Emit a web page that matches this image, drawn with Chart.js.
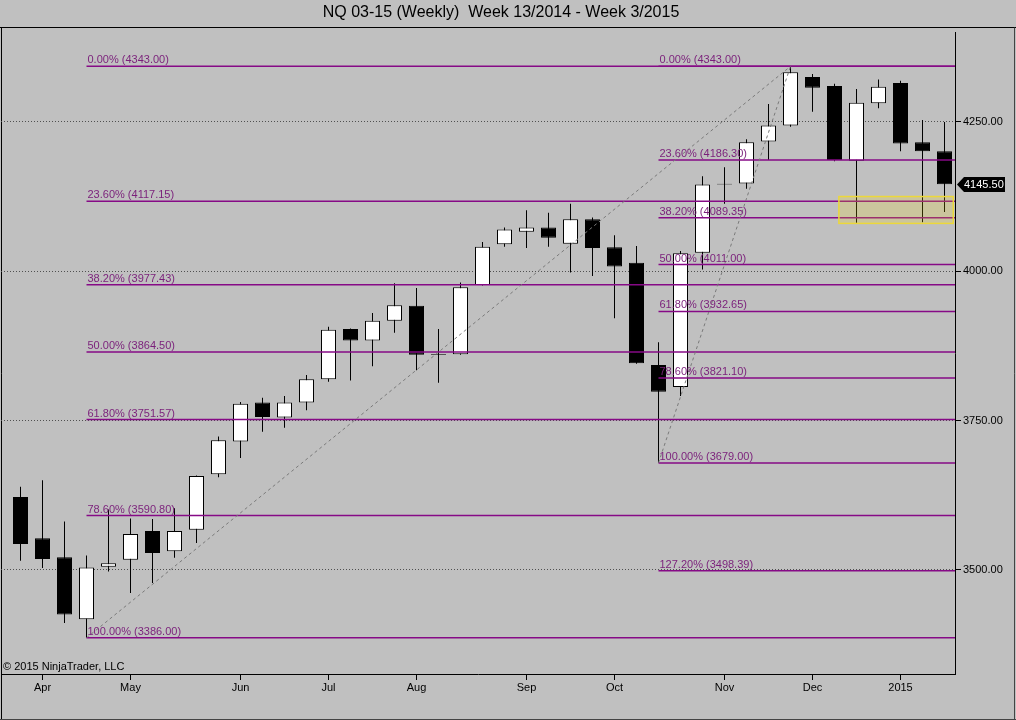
<!DOCTYPE html>
<html><head><meta charset="utf-8">
<script src="https://cdn.jsdelivr.net/npm/chart.js@4.4.1/dist/chart.umd.min.js"></script>
<style>html,body{margin:0;padding:0;background:#c0c0c0;}#wrap{width:1016px;height:720px;position:relative;}</style>
</head><body><div id="wrap"><canvas id="c"></canvas></div>
<script>
const titleText = 'NQ 03-15 (Weekly)  Week 13/2014 - Week 3/2015';
const copyrightText = '\u00a9 2015 NinjaTrader, LLC';

// weekly candles, week 13/2014 .. week 3/2015
const openP  = [3622,3553,3521,3417,3505,3517,3565,3531,3567,3660,3715,3780,3755,3780,3819,3903,3884,3917,3942,3860,3861,3977,4045,4066,4073,4046,4087,4040,4014,3843,3806,4031,4145,4147,4217,4244,4325,4310,4185,4281,4315,4216,4201];
const highP  = [3639,3650,3581,3524,3601,3586,3585,3603,3658,3723,3781,3788,3791,3826,3907,3904,3930,3980,3972,3903,3981,4049,4073,4102,4098,4113,4090,4060,4042,3881,4034,4159,4174,4221,4280,4343,4330,4314,4305,4321,4319,4253,4250];
const lowP   = [3515,3503,3411,3386,3497,3461,3478,3520,3545,3655,3687,3731,3738,3767,3815,3817,3841,3897,3834,3813,3860,3976,4041,4039,4041,3998,3992,3921,3845,3679,3791,4003,4113,4138,4186,4242,4267,4184,4080,4273,4201,4082,4099];
const closeP = [3543,3518,3425,3504,3511,3560,3528,3565,3657,3717,3778,3756,3780,3819,3902,3884,3917,3943,3860,3861.5,3973,4041,4070,4073,4056,4087,4039,4008,3846,3798,4030,4145,4146.5,4216,4244,4333,4307,4186,4282,4309,4214,4201,4145.5];

const monthTickPos = [1,5,10,14,18,23,27,32,36,40];
const monthLabels  = ['Apr','May','Jun','Jul','Aug','Sep','Oct','Nov','Dec','2015'];
const priceTicks   = [3500,3750,4000,4250];

const fibAStart  = 3;
const fibALevels = ['0.00%','23.60%','38.20%','50.00%','61.80%','78.60%','100.00%'];
const fibAValues = [4343.00,4117.15,3977.43,3864.50,3751.57,3590.80,3386.00];
const fibBStart  = 29;
const fibBLevels = ['0.00%','23.60%','38.20%','50.00%','61.80%','78.60%','100.00%','127.20%'];
const fibBValues = [4343.00,4186.30,4089.35,4011.00,3932.65,3821.10,3679.00,3498.39];

const trendA = [[3,3386],[35,4343]];
const trendB = [[29,3679],[35,4343]];
const zoneX = [37.2, 42.4];
const zoneY = [4080, 4125];
const lastPrice = closeP[closeP.length-1];

const X_MIN = -0.88636, X_MAX = 42.477;
const FONT = '"Liberation Sans", Arial, sans-serif';
const PURPLE = '#860a86';

const idx = openP.map((_, i) => i);

const datasets = [
  { type:'bar', data: idx.map(i => ({x:i, y:[lowP[i], highP[i]]})), backgroundColor:'#000',
    borderWidth:0, barThickness:1, grouped:false, inflateAmount:0, order:10 },
  { type:'bar', data: idx.map(i => ({x:i, y:[openP[i], closeP[i]]})),
    backgroundColor: idx.map(i => closeP[i] >= openP[i] ? '#ffffff' : '#000000'),
    borderColor:'#000', borderWidth:1, borderSkipped:false, barThickness:15, grouped:false, inflateAmount:0, order:9 }
];
fibAValues.forEach(v => datasets.push({ type:'line', data:[{x:fibAStart,y:v},{x:X_MAX,y:v}],
  borderColor:PURPLE, borderWidth:1.5, pointRadius:0, order:1 }));
fibBValues.forEach(v => datasets.push({ type:'line', data:[{x:fibBStart,y:v},{x:X_MAX,y:v}],
  borderColor:PURPLE, borderWidth:1.5, pointRadius:0, order:1 }));
[trendA, trendB].forEach(t => datasets.push({ type:'line', data:t.map(p => ({x:p[0], y:p[1]})),
  borderColor:'#7a7a7a', borderWidth:1, borderDash:[3,3], pointRadius:0, order:0 }));

const decor = {
  id:'decor',
  beforeDraw(chart) {
    const ctx = chart.ctx;
    ctx.save();
    ctx.fillStyle = '#c0c0c0';
    ctx.fillRect(0, 0, chart.width, chart.height);
    ctx.strokeStyle = '#000';
    ctx.lineWidth = 1;
    ctx.beginPath();
    ctx.moveTo(0, 27.5); ctx.lineTo(chart.width, 27.5);
    ctx.moveTo(1.5, 27.5); ctx.lineTo(1.5, chart.height);
    ctx.stroke();
    ctx.strokeStyle = '#444';
    ctx.beginPath();
    ctx.moveTo(0, chart.height - 0.5); ctx.lineTo(chart.width, chart.height - 0.5);
    ctx.moveTo(chart.width - 1.5, 27.5); ctx.lineTo(chart.width - 1.5, chart.height);
    ctx.stroke();
    ctx.fillStyle = '#000';
    ctx.font = '16px ' + FONT;
    ctx.textAlign = 'center';
    ctx.textBaseline = 'middle';
    ctx.fillText(titleText, 501, 13);
    ctx.restore();
  },
  afterDatasetsDraw(chart) {
    const ctx = chart.ctx, xs = chart.scales.x, ys = chart.scales.y;
    ctx.save();
    ctx.font = '11px ' + FONT;
    ctx.fillStyle = '#7a1f7a';
    ctx.textAlign = 'left';
    ctx.textBaseline = 'alphabetic';
    const lab = (start, levels, values) => values.forEach((v, k) => {
      ctx.fillText(levels[k] + ' (' + v.toFixed(2) + ')', xs.getPixelForValue(start) + 1, ys.getPixelForValue(v) - 3);
    });
    lab(fibAStart, fibALevels, fibAValues);
    lab(fibBStart, fibBLevels, fibBValues);
    // highlight zone
    const x1 = xs.getPixelForValue(zoneX[0]), x2 = xs.getPixelForValue(zoneX[1]);
    const y1 = ys.getPixelForValue(zoneY[1]), y2 = ys.getPixelForValue(zoneY[0]);
    ctx.fillStyle = 'rgba(255,220,0,0.18)';
    ctx.fillRect(x1, y1, x2 - x1, y2 - y1);
    ctx.strokeStyle = '#ecd83a';
    ctx.lineWidth = 1.5;
    ctx.strokeRect(x1, y1, x2 - x1, y2 - y1);
    // copyright
    ctx.fillStyle = '#000';
    ctx.font = '11px ' + FONT;
    ctx.textBaseline = 'middle';
    ctx.fillText(copyrightText, 3, 667);
    ctx.restore();
  },
  afterDraw(chart) {
    const ctx = chart.ctx, ys = chart.scales.y;
    const y = Math.round(ys.getPixelForValue(lastPrice)) + 0.5;
    const xl = chart.chartArea.right + 2;
    ctx.save();
    ctx.fillStyle = '#000';
    ctx.beginPath();
    ctx.moveTo(xl, y);
    ctx.lineTo(xl + 7, y - 7.5);
    ctx.lineTo(1005, y - 7.5);
    ctx.lineTo(1005, y + 7.5);
    ctx.lineTo(xl + 7, y + 7.5);
    ctx.closePath();
    ctx.fill();
    ctx.fillStyle = '#fff';
    ctx.font = '11px ' + FONT;
    ctx.textAlign = 'left';
    ctx.textBaseline = 'middle';
    ctx.fillText(lastPrice.toFixed(2), xl + 7, y + 0.5);
    ctx.restore();
  }
};

new Chart(document.getElementById('c'), {
  type:'bar',
  data:{ datasets },
  options:{
    responsive:true, maintainAspectRatio:false, animation:false,
    layout:{ padding:{ top:32, left:1, right:0, bottom:0 } },
    plugins:{ legend:{display:false}, tooltip:{enabled:false}, title:{display:false} },
    scales:{
      x:{
        type:'linear', min:X_MIN, max:X_MAX, position:'bottom', offset:false,
        afterBuildTicks: s => { s.ticks = monthTickPos.map(v => ({value:v})); },
        afterFit: s => { s.height = 46; },
        ticks:{ autoSkip:false, maxRotation:0, padding:1, color:'#000', font:{family:FONT, size:11},
          callback: v => monthLabels[monthTickPos.indexOf(v)] },
        grid:{ offset:false, drawOnChartArea:false, drawTicks:true, tickLength:6, tickColor:'#000', color:'#000' },
        border:{ display:true, color:'#000', width:1 }
      },
      y:{
        type:'linear', position:'right', min:3325.5, max:4400.5,
        afterBuildTicks: s => { s.ticks = priceTicks.map(v => ({value:v})); },
        afterFit: s => { s.width = 61; },
        ticks:{ padding:2, color:'#000', font:{family:FONT, size:11}, callback: v => v.toFixed(2) },
        grid:{ drawOnChartArea:true, drawTicks:true, tickLength:6, tickColor:'#000', color:'#505050', lineWidth:1 },
        border:{ display:true, color:'#000', width:1, dash:[1,2] }
      }
    }
  },
  plugins:[decor]
});
</script></body></html>
